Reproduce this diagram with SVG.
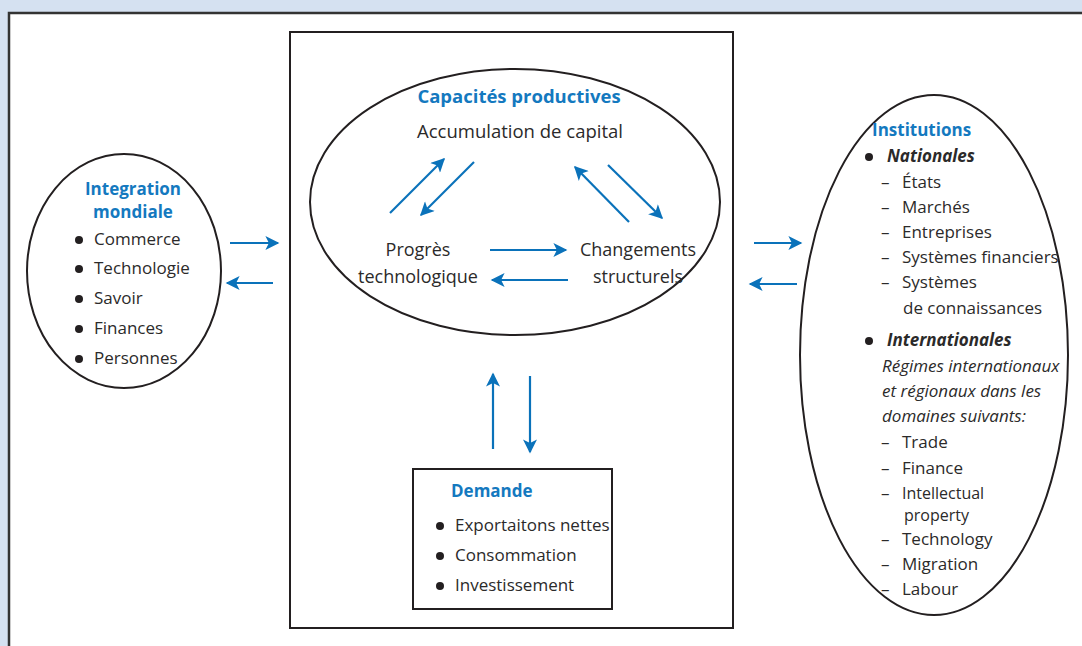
<svg xmlns="http://www.w3.org/2000/svg" width="1082" height="646" viewBox="0 0 1082 646">
<defs>
<marker id="ah" viewBox="0 0 10 10" refX="9" refY="5" markerWidth="15" markerHeight="14" markerUnits="userSpaceOnUse" orient="auto"><path d="M0,0 L10,5 L0,10 L2.5,5 Z" fill="#0a72ba"/></marker>
</defs>
<style>
text{font-family:"Open Sans","Liberation Sans",sans-serif;font-size:17px;fill:#2b2a2a}
.t{font-weight:bold;fill:#1479bf}
.bi{font-weight:bold;font-style:italic}
.i{font-style:italic}
.m{text-anchor:middle}
.sh{fill:none;stroke:#231f20;stroke-width:2}
.c line{stroke:#0a72ba;stroke-width:2.2;marker-end:url(#ah)}
</style>
<rect width="1082" height="646" fill="#d5e1f1"/>
<rect x="9" y="13" width="1080" height="640" fill="#ffffff" stroke="#333" stroke-width="2.5"/>
<g id="central"><rect x="290" y="32" width="443" height="596" class="sh"/></g>
<g id="integration">
<ellipse cx="124" cy="271" rx="97" ry="117" class="sh"/>
<text x="133" y="195" class="t m">Integration</text>
<text x="133" y="218" class="t m">mondiale</text>
<g fill="#231f20"><circle cx="79" cy="240" r="4"/><circle cx="79" cy="269" r="4"/><circle cx="79" cy="299" r="4"/><circle cx="79" cy="329" r="4"/><circle cx="79" cy="359" r="4"/></g>
<text x="94" y="245">Commerce</text>
<text x="94" y="274">Technologie</text>
<text x="94" y="304">Savoir</text>
<text x="94" y="334">Finances</text>
<text x="94" y="364">Personnes</text>
</g>
<g id="capacites">
<ellipse cx="515" cy="202" rx="205" ry="133" class="sh"/>
<text x="519" y="103" class="t m" style="font-size:18.5px">Capacités productives</text>
<text x="520" y="138" class="m" style="font-size:18.5px">Accumulation de capital</text>
<text x="418" y="256" class="m" style="font-size:18px">Progrès</text>
<text x="418" y="283" class="m" style="font-size:18px">technologique</text>
<text x="638" y="256" class="m" style="font-size:18px">Changements</text>
<text x="638" y="283" class="m" style="font-size:18px">structurels</text>
</g>
<g id="demande">
<rect x="413" y="469" width="199" height="140" class="sh"/>
<text x="451" y="497" class="t">Demande</text>
<g fill="#231f20"><circle cx="440" cy="526" r="4"/><circle cx="440" cy="556" r="4"/><circle cx="440" cy="586" r="4"/></g>
<text x="455" y="531">Exportaitons nettes</text>
<text x="455" y="561">Consommation</text>
<text x="455" y="591">Investissement</text>
</g>
<g id="institutions">
<ellipse cx="934" cy="355" rx="134" ry="260" class="sh"/>
<text x="872" y="136" class="t">Institutions</text>
<g fill="#231f20"><circle cx="869" cy="157" r="4"/><circle cx="869" cy="341" r="4"/></g>
<text x="887" y="162" class="bi">Nationales</text>
<text x="881" y="188">–</text><text x="902" y="188">États</text>
<text x="881" y="213">–</text><text x="902" y="213">Marchés</text>
<text x="881" y="238">–</text><text x="902" y="238">Entreprises</text>
<text x="881" y="263">–</text><text x="902" y="263">Systèmes financiers</text>
<text x="881" y="288">–</text><text x="902" y="288">Systèmes</text>
<text x="903" y="314">de connaissances</text>
<text x="887" y="346" class="bi">Internationales</text>
<text x="882" y="372" class="i">Régimes internationaux</text>
<text x="882" y="397" class="i">et régionaux dans les</text>
<text x="882" y="422" class="i">domaines suivants:</text>
<text x="881" y="448">–</text><text x="902" y="448">Trade</text>
<text x="881" y="474">–</text><text x="902" y="474">Finance</text>
<text x="881" y="499">–</text><text x="902" y="499" style="font-size:16px">Intellectual</text>
<text x="904" y="521" style="font-size:16px">property</text>
<text x="881" y="545">–</text><text x="902" y="545">Technology</text>
<text x="881" y="570">–</text><text x="902" y="570">Migration</text>
<text x="881" y="595">–</text><text x="902" y="595">Labour</text>
</g>
<g id="connectors" class="c">
<line x1="230" y1="243" x2="278" y2="243"/>
<line x1="273" y1="283" x2="227" y2="283"/>
<line x1="754" y1="243" x2="801" y2="243"/>
<line x1="797" y1="284" x2="750" y2="284"/>
<line x1="390" y1="213" x2="444" y2="159"/>
<line x1="474" y1="162" x2="421" y2="215"/>
<line x1="629" y1="222" x2="575" y2="167"/>
<line x1="608" y1="165" x2="662" y2="218"/>
<line x1="490" y1="250" x2="566" y2="250"/>
<line x1="568" y1="280" x2="492" y2="280"/>
<line x1="493" y1="449" x2="493" y2="374"/>
<line x1="530" y1="376" x2="530" y2="452"/>
</g>
</svg>
